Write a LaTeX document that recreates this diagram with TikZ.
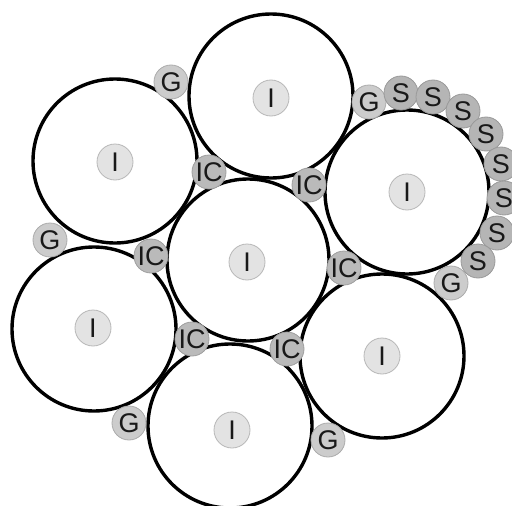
\documentclass[tikz,border=0pt]{standalone}
\usepackage{fontspec}
\setmainfont{Liberation Sans}
\begin{document}
\begin{tikzpicture}[x=1pt,y=-1pt,
  big/.style={circle,draw=black,line width=3.4pt,fill=white,minimum size=#1,inner sep=0pt},
  big/.default=164pt,
  small/.style={circle,inner sep=0pt,minimum size=34pt,line width=0.8pt,font=\fontsize{27}{27}\selectfont,text=black!90},
  inode/.style={small,fill=black!11,draw=black!28,minimum size=36pt},
  gnode/.style={small,fill=black!20,draw=black!33},
  icnode/.style={small,fill=black!27,draw=black!38},
  snode/.style={small,fill=black!29,draw=black!40}]
\useasboundingbox (0,0) rectangle (512,506);
% big circles
\node[big=162pt] (c0) at (248,260) {};
\node[big] (t)  at (271,96) {};
\node[big] (ul) at (115,161) {};
\node[big] (r)  at (407,192) {};
\node[big] (l)  at (94,329) {};
\node[big] (b)  at (230,426) {};
\node[big] (lr) at (382,356) {};
% I nodes
\node[inode] (i0) at (247,262) {I};
\node[inode] (it) at (271,98) {I};
\node[inode] (iul) at (115,162) {I};
\node[inode] (ir) at (407,192) {I};
\node[inode] (il) at (93,328) {I};
\node[inode] (ib) at (232,430) {I};
\node[inode] (ilr) at (382,356) {I};
% IC nodes
\node[icnode] (ic1) at (209,172) {IC};
\node[icnode] (ic2) at (309,185) {IC};
\node[icnode] (ic3) at (151,256) {IC};
\node[icnode] (ic4) at (344,268) {IC};
\node[icnode] (ic5) at (192,339) {IC};
\node[icnode] (ic6) at (287,349) {IC};
% G nodes
\node[gnode] (g1) at (171,82) {G};
\node[gnode] (g2) at (369,102) {G};
\node[gnode] (g3) at (50,240) {G};
\node[gnode] (g4) at (451,283) {G};
\node[gnode] (g5) at (129,423) {G};
\node[gnode] (g6) at (328,440) {G};
% S nodes
\node[snode] (s1) at (401,93) {S};
\node[snode] (s2) at (433,97) {S};
\node[snode] (s3) at (463,111) {S};
\node[snode] (s4) at (486,134) {S};
\node[snode] (s5) at (501,164) {S};
\node[snode] (s6) at (504,198) {S};
\node[snode] (s7) at (497,233) {S};
\node[snode] (s8) at (478,261) {S};
\end{tikzpicture}
\end{document}
